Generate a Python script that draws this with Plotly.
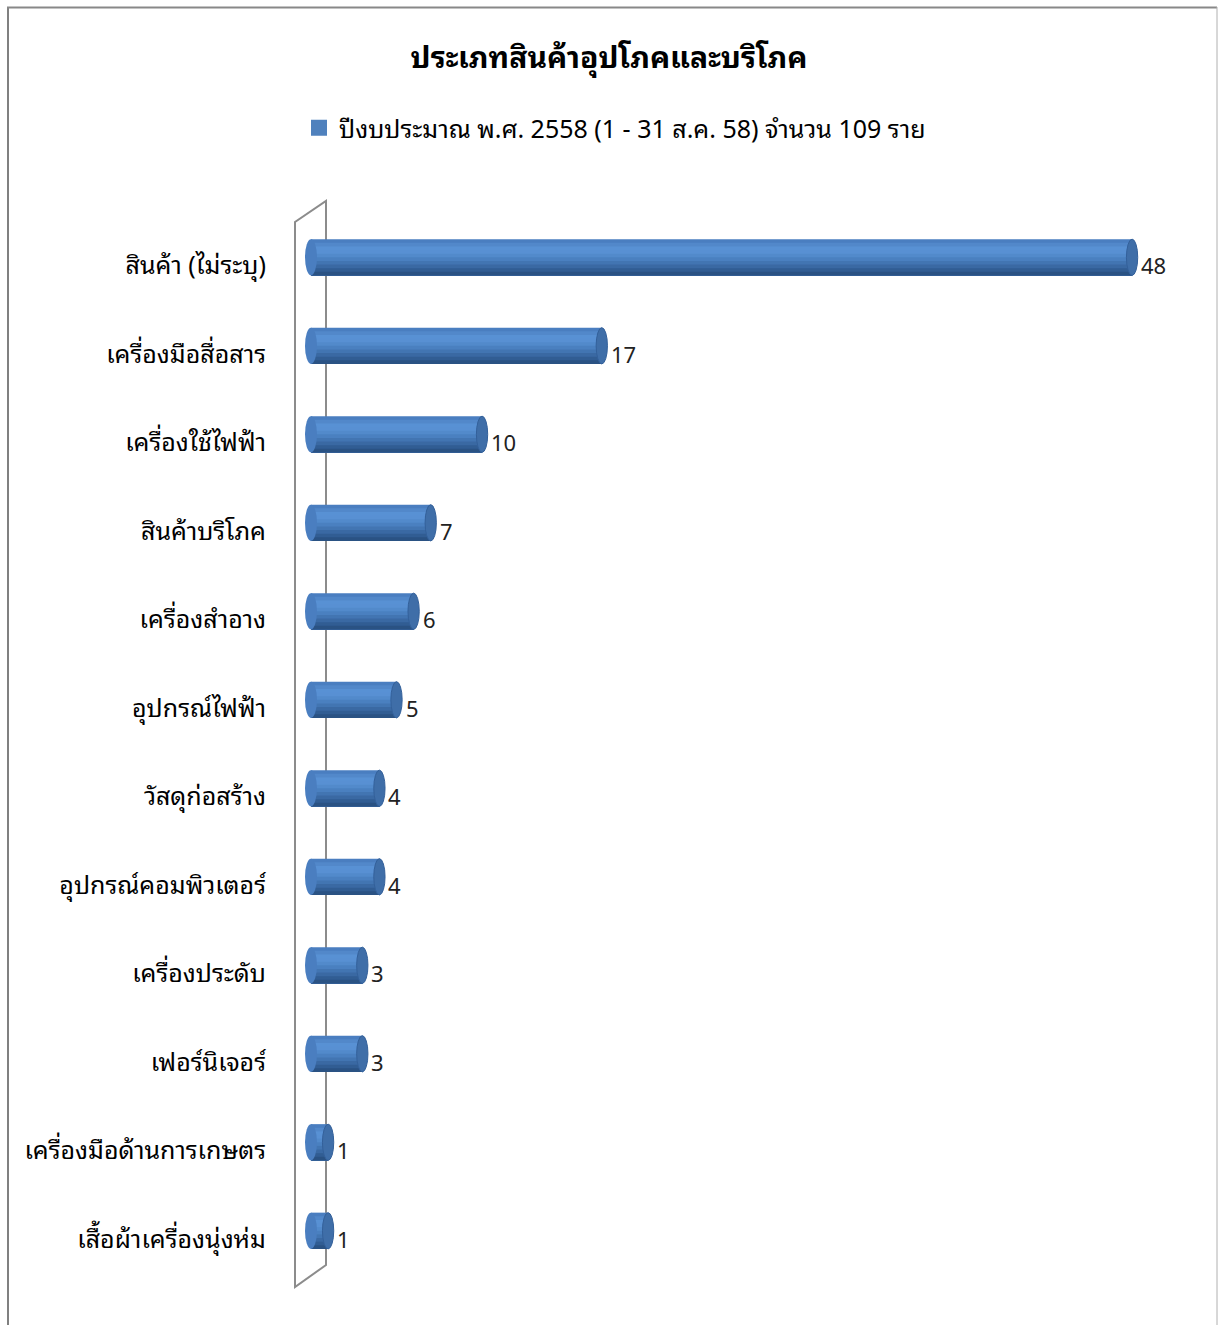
import plotly.graph_objects as go

categories = ["สินค้า (ไม่ระบุ)", "เครื่องมือสื่อสาร", "เครื่องใช้ไฟฟ้า", "สินค้าบริโภค",
              "เครื่องสำอาง", "อุปกรณ์ไฟฟ้า", "วัสดุก่อสร้าง", "อุปกรณ์คอมพิวเตอร์",
              "เครื่องประดับ", "เฟอร์นิเจอร์", "เครื่องมือด้านการเกษตร", "เสื้อผ้าเครื่องนุ่งห่ม"]
values = [48, 17, 10, 7, 6, 5, 4, 4, 3, 3, 1, 1]
series_name = "ปีงบประมาณ พ.ศ. 2558 (1 - 31 ส.ค. 58) จำนวน 109 ราย"
title_text = "ประเภทสินค้าอุปโภคและบริโภค"

FONT = "Noto Sans Thai Looped, Noto Serif Thai, Noto Sans Thai, Tahoma, Noto Sans, DejaVu Sans, sans-serif"
W, H = 1218, 1325
ML, MR, MT, MB = 305, 50, 221, 42
PW, PH = W - ML - MR, H - MT - MB

def px_x(p):
    return (p - ML) / PW

def px_y(p):
    return (H - MB - p) / PH

fig = go.Figure()
bw = 0.41
shift = -0.09  # bars sit slightly above category centre (3D perspective)
band_colors = ["#4A7EC0", "#5288CA", "#5891D4", "#5890D3", "#528ACB", "#4A80C0",
               "#4275B2", "#3A69A3", "#315D93", "#2A5283"]
nb = len(band_colors)
bh = bw / nb
bottom = shift + bw / 2
for k, c in enumerate(band_colors):
    top = shift - bw / 2 + k * bh
    fig.add_trace(go.Bar(y=categories, x=values, orientation="h",
                         width=bottom - top, offset=top,
                         marker=dict(color=c, line=dict(width=0)),
                         showlegend=False, hoverinfo="skip"))
# legend entry
fig.add_trace(go.Scatter(x=[None], y=[None], mode="markers",
                         marker=dict(symbol="square", size=16, color="#4F81BD"),
                         name=series_name, showlegend=True))

shapes = []
# wall frame
xl, xr = px_x(295), px_x(326)
shapes.append(dict(type="path", xref="paper", yref="paper", layer="below",
                   path=f"M {xl},{px_y(1287)} L {xl},{px_y(222)} L {xr},{px_y(201)} L {xr},{px_y(1265)} Z",
                   line=dict(color="#8C8C8C", width=2)))
# cylinder caps
for i, v in enumerate(values):
    yc = i + shift
    shapes.append(dict(type="circle", xref="x", yref="y", layer="above",
                       x0=-0.35, x1=0.35, y0=yc - bw / 2, y1=yc + bw / 2,
                       fillcolor="#4A7EC0", line=dict(width=0)))
    shapes.append(dict(type="circle", xref="x", yref="y", layer="above",
                       x0=v - 0.33, x1=v + 0.33, y0=yc - bw / 2, y1=yc + bw / 2,
                       fillcolor="#3F6EA8", line=dict(color="#33609A", width=1)))
# outer border
shapes.append(dict(type="line", xref="paper", yref="paper", x0=px_x(8), x1=px_x(8),
                   y0=px_y(7), y1=px_y(1340), line=dict(color="#808080", width=2)))
shapes.append(dict(type="line", xref="paper", yref="paper", x0=px_x(7), x1=px_x(1217),
                   y0=px_y(7.5), y1=px_y(7.5), line=dict(color="#888888", width=2)))
shapes.append(dict(type="line", xref="paper", yref="paper", x0=px_x(1217), x1=px_x(1217),
                   y0=px_y(7), y1=px_y(1340), line=dict(color="#B0B0B0", width=1)))

annotations = []
for i, v in enumerate(values):
    annotations.append(dict(x=v, y=categories[i], xref="x", yref="y", text=str(v),
                            showarrow=False, xanchor="left", xshift=7, yshift=1,
                            font=dict(family=FONT, size=22, color="#222222")))

fig.update_layout(
    width=W, height=H,
    margin=dict(l=ML, r=MR, t=MT, b=MB),
    paper_bgcolor="white", plot_bgcolor="white",
    barmode="overlay",
    title=dict(text=f"<b>{title_text}</b>", x=0.5, xanchor="center", y=1 - 57 / H,
               yanchor="middle", font=dict(family=FONT, size=30, color="#000000")),
    legend=dict(orientation="h", x=px_x(299), y=px_y(128), xanchor="left", yanchor="middle",
                font=dict(family=FONT, size=25, color="#000000"), bgcolor="rgba(0,0,0,0)",
                itemwidth=30),
    xaxis=dict(range=[-0.35, 50.1], visible=False, showgrid=False, zeroline=False),
    yaxis=dict(autorange="reversed", showgrid=False, zeroline=False, showline=False,
               ticks="outside", ticklen=33, tickcolor="rgba(0,0,0,0)",
               tickfont=dict(family=FONT, size=25, color="#000000")),
    shapes=shapes, annotations=annotations,
    font=dict(family=FONT),
)

fig.write_html("out.html")
